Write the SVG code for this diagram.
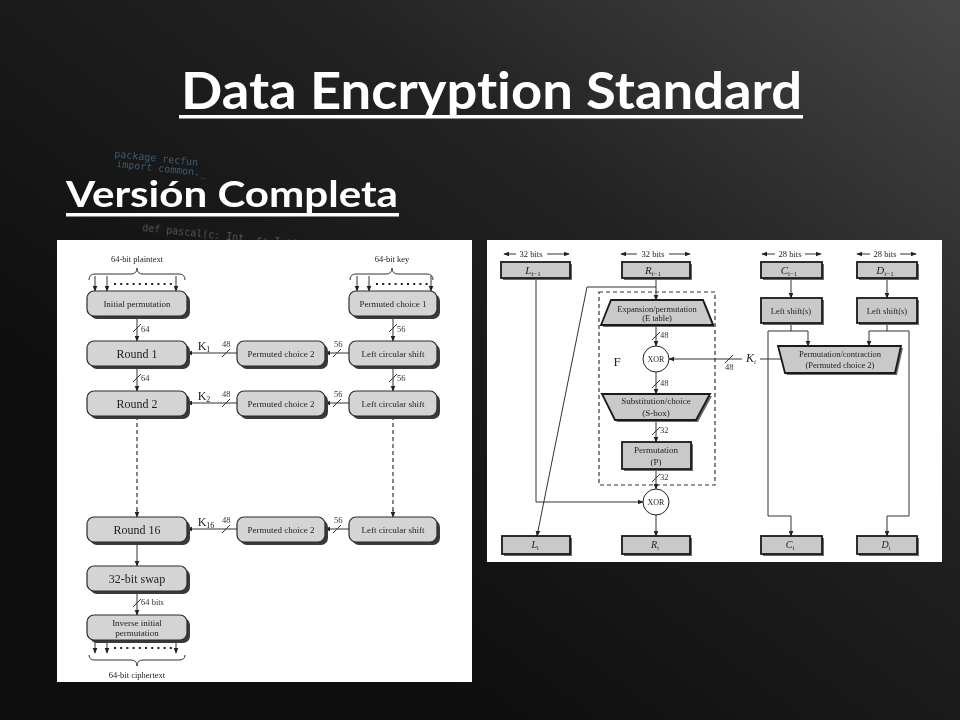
<svg xmlns="http://www.w3.org/2000/svg" width="960" height="720" viewBox="0 0 960 720">
<defs>
<linearGradient id="bg" x1="1" y1="0" x2="0.25" y2="0.75">
<stop offset="0" stop-color="#464646"/>
<stop offset="0.45" stop-color="#222"/>
<stop offset="1" stop-color="#0e0e0e"/>
</linearGradient>
<marker id="ah" viewBox="0 0 8 8" refX="7" refY="4" markerWidth="6" markerHeight="6" orient="auto" markerUnits="userSpaceOnUse">
<path d="M0,0.8 L8,4 L0,7.2 Z" fill="#222"/>
</marker>
<style>
.ttl{font-family:Lato,"Open Sans","Liberation Sans",sans-serif;font-weight:bold;fill:#fff;font-variant-ligatures:none}
.code{font-family:"DejaVu Sans Mono","Liberation Mono",monospace;font-size:10px}
.ser{font-family:"Liberation Serif","DejaVu Serif",serif;fill:#222;text-anchor:middle}
.s8{font-size:8.5px}
.s9{font-size:9px}
.s12{font-size:12px}
.lb{font-family:"Liberation Serif","DejaVu Serif",serif;fill:#333;font-size:8.5px}
.rbox{fill:#d4d4d4;stroke:#2a2a2a;stroke-width:1.2}
.rsh{fill:#3a3a3a}
.sbox{fill:#c9c9c9;stroke:#1a1a1a;stroke-width:1.8}
.ssh{fill:#6a6a6a}
.ln{fill:none;stroke:#333;stroke-width:1}
.la{fill:none;stroke:#333;stroke-width:1;marker-end:url(#ah)}
.dl{fill:none;stroke:#333;stroke-width:1.2;stroke-dasharray:4,3}
.dots{fill:none;stroke:#222;stroke-width:2;stroke-dasharray:2,4.2}
.it{font-style:italic}
</style>
</defs>
<rect x="0" y="0" width="960" height="720" fill="url(#bg)"/>
<g id="bgcode" opacity="0.55">
<text class="code" fill="#5a8fb5" transform="translate(114,157) rotate(6)">package recfun</text>
<text class="code" fill="#5a8fb5" transform="translate(116,167) rotate(6)">import common._</text>
<text class="code" fill="#8a8a8a" transform="translate(142,231) rotate(6)">def pascal(c: Int, r: Int): Int = {</text>
</g>
<g id="title">
<text class="ttl" x="181" y="109" font-size="52" textLength="621" lengthAdjust="spacingAndGlyphs">Data Encryption Standard</text>
<rect x="179" y="115" width="624" height="3.5" fill="#fff"/>
<text class="ttl" x="66" y="207" font-size="36" textLength="332" lengthAdjust="spacingAndGlyphs">Versión Completa</text>
<rect x="66" y="213" width="333" height="3.5" fill="#fff"/>
</g>
<rect id="panelL" x="57" y="240" width="415" height="442" fill="#fff"/>
<rect id="panelR" x="487" y="240" width="455" height="322" fill="#fff"/>

<!-- LEFT DIAGRAM -->
<g id="left-connectors">
<text class="ser s8" x="137" y="262">64-bit plaintext</text>
<path class="ln" d="M89,280 Q89,274 95,274 L131,274 Q137,274 137,268 Q137,274 143,274 L179,274 Q185,274 185,280"/>
<path class="la" d="M95,276 V291"/><path class="la" d="M107,276 V291"/><path class="la" d="M176,276 V291"/>
<path class="dots" d="M114,284 H172"/>
<text class="ser s8" x="392" y="262">64-bit key</text>
<path class="ln" d="M350,280 Q350,274 356,274 L386,274 Q392,274 392,268 Q392,274 398,274 L427,274 Q433,274 433,280"/>
<path class="la" d="M357,276 V291"/><path class="la" d="M369,276 V291"/><path class="la" d="M431,276 V291"/>
<path class="dots" d="M376,284 H428"/>

<path class="la" d="M137,316 V341"/><path class="ln" d="M133,332 L141,324"/><text class="lb" x="141" y="332">64</text>
<path class="la" d="M393,316 V341"/><path class="ln" d="M389,332 L397,324"/><text class="lb" x="397" y="332">56</text>
<path class="la" d="M349,353 H325"/><path class="ln" d="M333,357 L341,349"/><text class="lb" x="334" y="347">56</text>
<path class="la" d="M237,353 H187"/><path class="ln" d="M222,357 L230,349"/><text class="lb" x="222" y="347">48</text>
<text class="ser s12" x="204" y="350">K<tspan font-size="8" dy="2">1</tspan></text>

<path class="la" d="M137,366 V391"/><path class="ln" d="M133,382 L141,374"/><text class="lb" x="141" y="381">64</text>
<path class="la" d="M393,366 V391"/><path class="ln" d="M389,382 L397,374"/><text class="lb" x="397" y="381">56</text>
<path class="la" d="M349,403 H325"/><path class="ln" d="M333,407 L341,399"/><text class="lb" x="334" y="397">56</text>
<path class="la" d="M237,403 H187"/><path class="ln" d="M222,407 L230,399"/><text class="lb" x="222" y="397">48</text>
<text class="ser s12" x="204" y="400">K<tspan font-size="8" dy="2">2</tspan></text>

<path class="dl" d="M137,416 V511"/><path class="la" d="M137,510 V517"/>
<path class="dl" d="M393,416 V511"/><path class="la" d="M393,510 V517"/>

<path class="la" d="M349,529 H325"/><path class="ln" d="M333,533 L341,525"/><text class="lb" x="334" y="523">56</text>
<path class="la" d="M237,529 H187"/><path class="ln" d="M222,533 L230,525"/><text class="lb" x="222" y="523">48</text>
<text class="ser s12" x="206" y="526">K<tspan font-size="8" dy="2">16</tspan></text>

<path class="la" d="M137,542 V566"/>
<path class="la" d="M137,591 V615"/><path class="ln" d="M133,607 L141,599"/><text class="lb" x="141" y="605">64 bits</text>
<path class="la" d="M95,640 V653"/><path class="la" d="M107,640 V653"/><path class="la" d="M176,640 V653"/>
<path class="dots" d="M114,648 H172"/>
<path class="ln" d="M89,655 Q89,660 95,660 L131,660 Q137,660 137,666 Q137,660 143,660 L179,660 Q185,660 185,655"/>
<text class="ser s8" x="137" y="678">64-bit ciphertext</text>
</g>

<g id="n-ip"><rect class="rsh" x="90" y="294" width="100" height="25" rx="7"/><rect class="rbox" x="87" y="291" width="100" height="25" rx="7"/><text class="ser s9" x="137" y="307">Initial permutation</text></g>
<g id="n-pc1"><rect class="rsh" x="352" y="294" width="88" height="25" rx="7"/><rect class="rbox" x="349" y="291" width="88" height="25" rx="7"/><text class="ser s9" x="393" y="307">Permuted choice 1</text></g>

<g id="n-r1"><rect class="rsh" x="90" y="344" width="100" height="25" rx="7"/><rect class="rbox" x="87" y="341" width="100" height="25" rx="7"/><text class="ser s12" x="137" y="358">Round 1</text></g>
<g id="n-pc2a"><rect class="rsh" x="240" y="344" width="88" height="25" rx="7"/><rect class="rbox" x="237" y="341" width="88" height="25" rx="7"/><text class="ser s9" x="281" y="357">Permuted choice 2</text></g>
<g id="n-lcs1"><rect class="rsh" x="352" y="344" width="88" height="25" rx="7"/><rect class="rbox" x="349" y="341" width="88" height="25" rx="7"/><text class="ser s9" x="393" y="357">Left circular shift</text></g>

<g id="n-r2"><rect class="rsh" x="90" y="394" width="100" height="25" rx="7"/><rect class="rbox" x="87" y="391" width="100" height="25" rx="7"/><text class="ser s12" x="137" y="408">Round 2</text></g>
<g id="n-pc2b"><rect class="rsh" x="240" y="394" width="88" height="25" rx="7"/><rect class="rbox" x="237" y="391" width="88" height="25" rx="7"/><text class="ser s9" x="281" y="407">Permuted choice 2</text></g>
<g id="n-lcs2"><rect class="rsh" x="352" y="394" width="88" height="25" rx="7"/><rect class="rbox" x="349" y="391" width="88" height="25" rx="7"/><text class="ser s9" x="393" y="407">Left circular shift</text></g>

<g id="n-r16"><rect class="rsh" x="90" y="520" width="100" height="25" rx="7"/><rect class="rbox" x="87" y="517" width="100" height="25" rx="7"/><text class="ser s12" x="137" y="534">Round 16</text></g>
<g id="n-pc2c"><rect class="rsh" x="240" y="520" width="88" height="25" rx="7"/><rect class="rbox" x="237" y="517" width="88" height="25" rx="7"/><text class="ser s9" x="281" y="533">Permuted choice 2</text></g>
<g id="n-lcs16"><rect class="rsh" x="352" y="520" width="88" height="25" rx="7"/><rect class="rbox" x="349" y="517" width="88" height="25" rx="7"/><text class="ser s9" x="393" y="533">Left circular shift</text></g>

<g id="n-swap"><rect class="rsh" x="90" y="569" width="100" height="25" rx="7"/><rect class="rbox" x="87" y="566" width="100" height="25" rx="7"/><text class="ser s12" x="137" y="583">32-bit swap</text></g>
<g id="n-iip"><rect class="rsh" x="90" y="618" width="100" height="25" rx="7"/><rect class="rbox" x="87" y="615" width="100" height="25" rx="7"/><text class="ser s9" x="137" y="626">Inverse initial</text><text class="ser s9" x="137" y="636">permutation</text></g>

<!-- RIGHT DIAGRAM -->
<g id="right-connectors">
<path class="la" d="M516,254 H504"/><text class="ser s8" x="531" y="257">32 bits</text><path class="la" d="M547,254 H569"/>
<path class="la" d="M637,254 H621"/><text class="ser s8" x="653" y="257">32 bits</text><path class="la" d="M669,254 H690"/>
<path class="la" d="M775,254 H762"/><text class="ser s8" x="790" y="257">28 bits</text><path class="la" d="M805,254 H821"/>
<path class="la" d="M870,254 H857"/><text class="ser s8" x="885" y="257">28 bits</text><path class="la" d="M900,254 H916"/>

<rect class="dl" x="599" y="292" width="116" height="193" stroke-width="1"/>
<text class="ser" x="617" y="366" font-size="13">F</text>

<path class="la" d="M536,278 V502 H643"/>
<path class="la" d="M656,278 V300"/>
<path class="la" d="M656,287 H587 L537,536"/>
<path class="la" d="M656,325 V346"/><path class="ln" d="M652,340 L660,332"/><text class="lb" x="660" y="338">48</text>
<path class="la" d="M656,372 V394"/><path class="ln" d="M652,388 L660,380"/><text class="lb" x="660" y="386">48</text>
<path class="la" d="M656,420 V442"/><path class="ln" d="M652,435 L660,427"/><text class="lb" x="660" y="433">32</text>
<path class="la" d="M656,469 V489"/><path class="ln" d="M652,482 L660,474"/><text class="lb" x="660" y="480">32</text>
<path class="la" d="M656,515 V536"/>

<path class="ln" d="M781,359 H760"/>
<text class="ser s12 it" x="751" y="362">K<tspan font-size="7" dy="2">i</tspan></text>
<path class="la" d="M742,359 H669"/><path class="ln" d="M725,363 L733,355"/><text class="lb" x="725" y="370">48</text>

<path class="la" d="M791,278 V298"/>
<path class="ln" d="M791,323 V331 M768,331 H808"/>
<path class="la" d="M808,331 V346"/>
<path class="la" d="M768,331 V516 H791 V536"/>
<path class="la" d="M887,278 V298"/>
<path class="ln" d="M887,323 V331 M869,331 H909"/>
<path class="la" d="M869,331 V346"/>
<path class="la" d="M909,331 V516 H887 V536"/>
</g>

<g id="n-li1"><rect class="ssh" x="503" y="264" width="69" height="16"/><rect class="sbox" x="501" y="262" width="69" height="16"/><text class="ser it" x="533" y="274" font-size="11">L<tspan font-size="7" dy="1.5" font-style="normal">i−1</tspan></text></g>
<g id="n-ri1"><rect class="ssh" x="624" y="264" width="68" height="16"/><rect class="sbox" x="622" y="262" width="68" height="16"/><text class="ser it" x="653" y="274" font-size="11">R<tspan font-size="7" dy="1.5" font-style="normal">i−1</tspan></text></g>
<g id="n-ci1"><rect class="ssh" x="763" y="264" width="61" height="16"/><rect class="sbox" x="761" y="262" width="61" height="16"/><text class="ser it" x="789" y="274" font-size="11">C<tspan font-size="7" dy="1.5" font-style="normal">i−1</tspan></text></g>
<g id="n-di1"><rect class="ssh" x="859" y="264" width="60" height="16"/><rect class="sbox" x="857" y="262" width="60" height="16"/><text class="ser it" x="885" y="274" font-size="11">D<tspan font-size="7" dy="1.5" font-style="normal">i−1</tspan></text></g>

<g id="n-lsc"><rect class="ssh" x="763" y="300" width="61" height="25"/><rect class="sbox" x="761" y="298" width="61" height="25"/><text class="ser s8" x="791" y="314">Left shift(s)</text></g>
<g id="n-lsd"><rect class="ssh" x="859" y="300" width="60" height="25"/><rect class="sbox" x="857" y="298" width="60" height="25"/><text class="ser s8" x="887" y="314">Left shift(s)</text></g>

<g id="n-exp"><polygon class="ssh" points="613,302 705,302 715,327 603,327"/><polygon class="sbox" points="611,300 703,300 713,325 601,325"/><text class="ser s8" x="657" y="312">Expansion/permutation</text><text class="ser s8" x="657" y="321">(E table)</text></g>
<g id="n-xor1"><circle cx="656" cy="359" r="13" fill="#fff" stroke="#222" stroke-width="1"/><text class="ser" x="656" y="362" font-size="8">XOR</text></g>
<g id="n-sbox"><polygon class="ssh" points="604,396 712,396 698,422 617,422"/><polygon class="sbox" points="602,394 710,394 696,420 615,420"/><text class="ser s9" x="656" y="404">Substitution/choice</text><text class="ser s9" x="656" y="416">(S-box)</text></g>
<g id="n-perm"><rect class="ssh" x="624" y="444" width="69" height="27"/><rect class="sbox" x="622" y="442" width="69" height="27"/><text class="ser s9" x="656" y="453">Permutation</text><text class="ser s9" x="656" y="465">(P)</text></g>
<g id="n-xor2"><circle cx="656" cy="502" r="13" fill="#fff" stroke="#222" stroke-width="1"/><text class="ser" x="656" y="505" font-size="8">XOR</text></g>
<g id="n-pc2"><polygon class="ssh" points="780,348 903,348 897,375 787,375"/><polygon class="sbox" points="778,346 901,346 895,373 785,373"/><text class="ser s8" x="840" y="357">Permutation/contraction</text><text class="ser s8" x="840" y="368">(Permuted choice 2)</text></g>

<g id="n-li"><rect class="ssh" x="504" y="538" width="68" height="18"/><rect class="sbox" x="502" y="536" width="68" height="18"/><text class="ser it" x="535" y="548" font-size="10">L<tspan font-size="6" dy="2" font-style="normal">i</tspan></text></g>
<g id="n-ri"><rect class="ssh" x="624" y="538" width="68" height="18"/><rect class="sbox" x="622" y="536" width="68" height="18"/><text class="ser it" x="655" y="548" font-size="10">R<tspan font-size="6" dy="2" font-style="normal">i</tspan></text></g>
<g id="n-ci"><rect class="ssh" x="763" y="538" width="61" height="18"/><rect class="sbox" x="761" y="536" width="61" height="18"/><text class="ser it" x="790" y="548" font-size="10">C<tspan font-size="6" dy="2" font-style="normal">i</tspan></text></g>
<g id="n-di"><rect class="ssh" x="859" y="538" width="60" height="18"/><rect class="sbox" x="857" y="536" width="60" height="18"/><text class="ser it" x="886" y="548" font-size="10">D<tspan font-size="6" dy="2" font-style="normal">i</tspan></text></g>
</svg>
